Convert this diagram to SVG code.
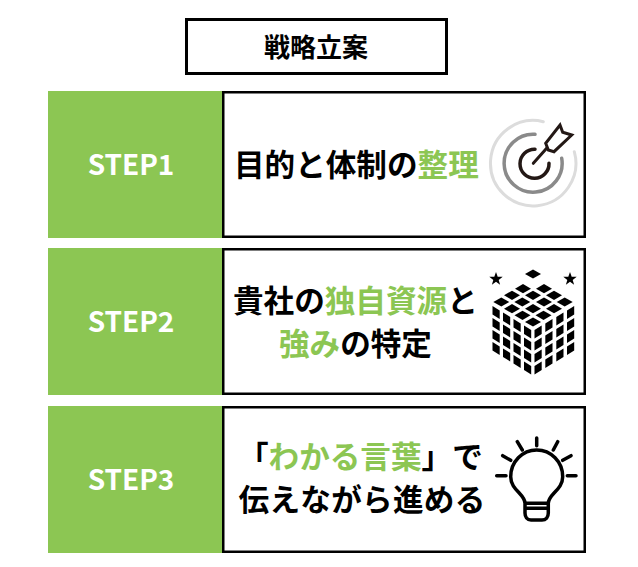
<svg xmlns="http://www.w3.org/2000/svg" width="638" height="567" viewBox="0 0 638 567">
<style>
text{font-family:"Noto Sans CJK JP","Noto Sans",sans-serif;font-weight:700;fill:#000}
.g{fill:#8cc653}
.band{fill:#8cc653}
.box{fill:#fff;stroke:#000;stroke-width:2.5}
.step{fill:#fff;font-size:28px;text-anchor:middle}
.main{font-size:30.600px}
.line{fill:none;stroke:#000;stroke-width:3.500;stroke-linecap:round;stroke-linejoin:round}
</style>
<defs>
<polygon id="top" points="-8,0 0,-4.600 8,0 0,4.600"/>
<polygon id="lc" points="0,0 7.200,4.400 7.200,12.900 0,8.500"/>
<polygon id="rc" points="7.200,0 0,4.400 0,12.900 7.200,8.500"/>
<polygon id="star" points="0,-7 1.700,-2.300 6.700,-2.200 2.700,0.900 4.100,5.700 0,2.800 -4.100,5.700 -2.700,0.900 -6.700,-2.200 -1.700,-2.300"/>
</defs>
<rect width="638" height="567" fill="#fff"/>
<g id="title"><rect x="186.500" y="19.500" width="260" height="54" fill="#fff" stroke="#000" stroke-width="3"/><text x="316" y="57" font-size="26" text-anchor="middle">戦略立案</text></g>
<g id="step1">
<rect class="band" x="48" y="91" width="174" height="147"/>
<rect class="box" x="223.250" y="92.250" width="361.500" height="144.500"/>
<text class="step" x="131" y="175">STEP1</text>
<text class="main" x="234" y="176">目的と体制の<tspan class="g">整理</tspan></text>
<g id="icon-target" fill="none" stroke-linecap="round">
<path d="M543.300 121.700A42.700 42.700 0 1 0 574.300 151.700" stroke="#dcdcdc" stroke-width="3"/>
<path d="M535 134.300A29 29 0 1 0 561.700 158.300" stroke="#8a8a8a" stroke-width="3.500"/>
<path d="M535 149.300A14.500 14.500 0 1 0 549 163.300" stroke="#231815" stroke-width="3.500"/>
<path d="M533.300 163.300L548 146.700" stroke="#231815" stroke-width="3"/>
<path d="M560 125L562.700 132.300L571.700 135L554 151.700L548.300 150L545.700 143.300Z" stroke="#231815" stroke-width="3" fill="#fff" stroke-linejoin="miter"/>
</g>
</g>
<g id="step2">
<rect class="band" x="48" y="248" width="174" height="147"/>
<rect class="box" x="223.250" y="249.250" width="361.500" height="144.500"/>
<text class="step" x="131" y="332">STEP2</text>
<text class="main" x="233" y="312">貴社の<tspan class="g">独自資源</tspan>と</text>
<text class="main" x="279" y="355"><tspan class="g">強み</tspan>の特定</text>
<g id="icon-cube">
<use href="#star" x="496" y="279"/><use href="#star" x="570" y="279"/>
<use href="#top" x="533" y="274"/>
<use href="#top" x="523" y="288.700"/><use href="#top" x="544" y="288.700"/>
<use href="#top" x="512" y="295.300"/><use href="#top" x="533" y="295.300"/><use href="#top" x="554" y="295.300"/>
<use href="#top" x="501.300" y="302"/><use href="#top" x="522.300" y="302"/><use href="#top" x="544" y="302"/><use href="#top" x="564.700" y="302"/>
<use href="#top" x="512" y="308.700"/><use href="#top" x="533" y="308.700"/><use href="#top" x="554" y="308.700"/>
<use href="#top" x="522.500" y="315.300"/><use href="#top" x="543.500" y="315.300"/>
<use href="#top" x="533" y="322"/>
<use href="#lc" x="492.500" y="306"/><use href="#lc" x="492.500" y="318"/><use href="#lc" x="492.500" y="330"/><use href="#lc" x="492.500" y="342"/>
<use href="#lc" x="503" y="312.500"/><use href="#lc" x="503" y="324.500"/><use href="#lc" x="503" y="336.500"/><use href="#lc" x="503" y="348.500"/>
<use href="#lc" x="513.500" y="319"/><use href="#lc" x="513.500" y="331"/><use href="#lc" x="513.500" y="343"/><use href="#lc" x="513.500" y="355"/>
<use href="#lc" x="524" y="325.500"/><use href="#lc" x="524" y="337.500"/><use href="#lc" x="524" y="349.500"/><use href="#lc" x="524" y="361.500"/>
<use href="#rc" x="534.500" y="325.500"/><use href="#rc" x="534.500" y="337.500"/><use href="#rc" x="534.500" y="349.500"/><use href="#rc" x="534.500" y="361.500"/>
<use href="#rc" x="545.300" y="319"/><use href="#rc" x="545.300" y="331"/><use href="#rc" x="545.300" y="343"/><use href="#rc" x="545.300" y="355"/>
<use href="#rc" x="556.300" y="312.500"/><use href="#rc" x="556.300" y="324.500"/><use href="#rc" x="556.300" y="336.500"/><use href="#rc" x="556.300" y="348.500"/>
<use href="#rc" x="567" y="306"/><use href="#rc" x="567" y="318"/><use href="#rc" x="567" y="330"/><use href="#rc" x="567" y="342"/>
</g>
</g>
<g id="step3">
<rect class="band" x="48" y="406" width="174" height="147"/>
<rect class="box" x="223.250" y="407.250" width="361.500" height="144.500"/>
<text class="step" x="131" y="490">STEP3</text>
<text class="main" x="238" y="468">「<tspan class="g">わかる言葉</tspan>」で</text>
<text class="main" x="238.500" y="511" letter-spacing="0.300">伝えながら進める</text>
<g id="icon-bulb" class="line">
<path d="M525 503.300C525 494 510.700 490 510.700 476.700A26 26.700 0 0 1 562.700 476.700C562.700 490 548.300 494 548.300 503.300ZM525 503.300V513C525 517 527 520 531 520H542C546 520 548.300 517 548.300 513V503.300M525 508.300H548.300"/>
<path d="M536.700 438V445.700M517.300 441.700L522.300 450M553.300 450L557.700 441.700M502.700 455.700L510.700 460.300M562.700 460.300L571 455.700M496.700 475.700H506M567.300 475.700H576"/>
</g>
</g>
</svg>
